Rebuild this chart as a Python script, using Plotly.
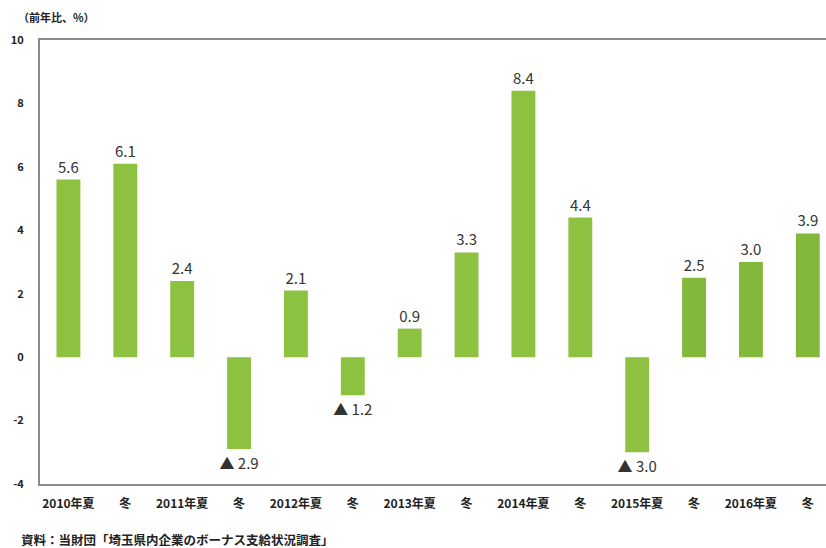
import plotly.graph_objects as go

# Bonus payments, year-on-year change (%), summer / winter
tick_labels = ["2010年夏", "冬", "2011年夏", "冬", "2012年夏", "冬", "2013年夏", "冬",
               "2014年夏", "冬", "2015年夏", "冬", "2016年夏", "冬"]
values = [5.6, 6.1, 2.4, -2.9, 2.1, -1.2, 0.9, 3.3, 8.4, 4.4, -3.0, 2.5, 3.0, 3.9]
y_ticks = [-4, -2, 0, 2, 4, 6, 8, 10]
y_tick_text = ["-4", "-2", "0", "2", "4", "6", "8", "10"]

base_color = "#8cc23f"
recent_color = "#82b93a"
colors = [base_color] * 11 + [recent_color] * 3

# negative values are written with a ▲ mark instead of a minus sign
labels = [f"{v:.1f}" if v >= 0 else f"▲ {abs(v):.1f}" for v in values]

x_pos = list(range(len(values)))

fig = go.Figure(go.Bar(
    x=x_pos,
    y=values,
    width=0.42,
    marker=dict(color=colors, line=dict(width=0)),
    text=labels,
    textposition="outside",
    constraintext="none",
    cliponaxis=False,
    textfont=dict(family="Noto Sans CJK JP", size=15, color="#333333"),
))

fig.update_layout(
    width=826, height=548,
    margin=dict(l=40, r=0, t=40, b=64),
    paper_bgcolor="white", plot_bgcolor="white",
    showlegend=False,
    font=dict(family="Noto Sans CJK JP", color="#222222"),
    xaxis=dict(
        range=[-0.5, len(values) - 0.68],
        tickmode="array", tickvals=x_pos, ticktext=tick_labels,
        tickfont=dict(size=12, color="#222222", weight="bold"),
        showline=True, linecolor="#8a8a8a", linewidth=2, mirror=True,
        ticks="", showgrid=False, zeroline=False, ticklabelstandoff=8,
    ),
    yaxis=dict(
        range=[-4, 10], tickmode="array", tickvals=y_ticks, ticktext=y_tick_text,
        tickfont=dict(size=11, color="#222222", weight="bold"),
        showline=True, linecolor="#8a8a8a", linewidth=2,
        showgrid=False, zeroline=False, ticks="", ticklabelstandoff=12,
    ),
    annotations=[
        dict(text="（前年比、%）", x=0.0, y=1.0, xref="paper", yref="paper",
             xshift=-24, yshift=23, xanchor="left", yanchor="middle", showarrow=False,
             font=dict(size=11, color="#222222", weight="bold")),
        dict(text="資料：当財団「埼玉県内企業のボーナス支給状況調査」", x=0.0, y=0.0,
             xref="paper", yref="paper", xshift=-21, yshift=-55,
             xanchor="left", yanchor="middle", showarrow=False,
             font=dict(size=12.5, color="#222222", weight="bold")),
    ],
)

fig.write_html("out.html")
